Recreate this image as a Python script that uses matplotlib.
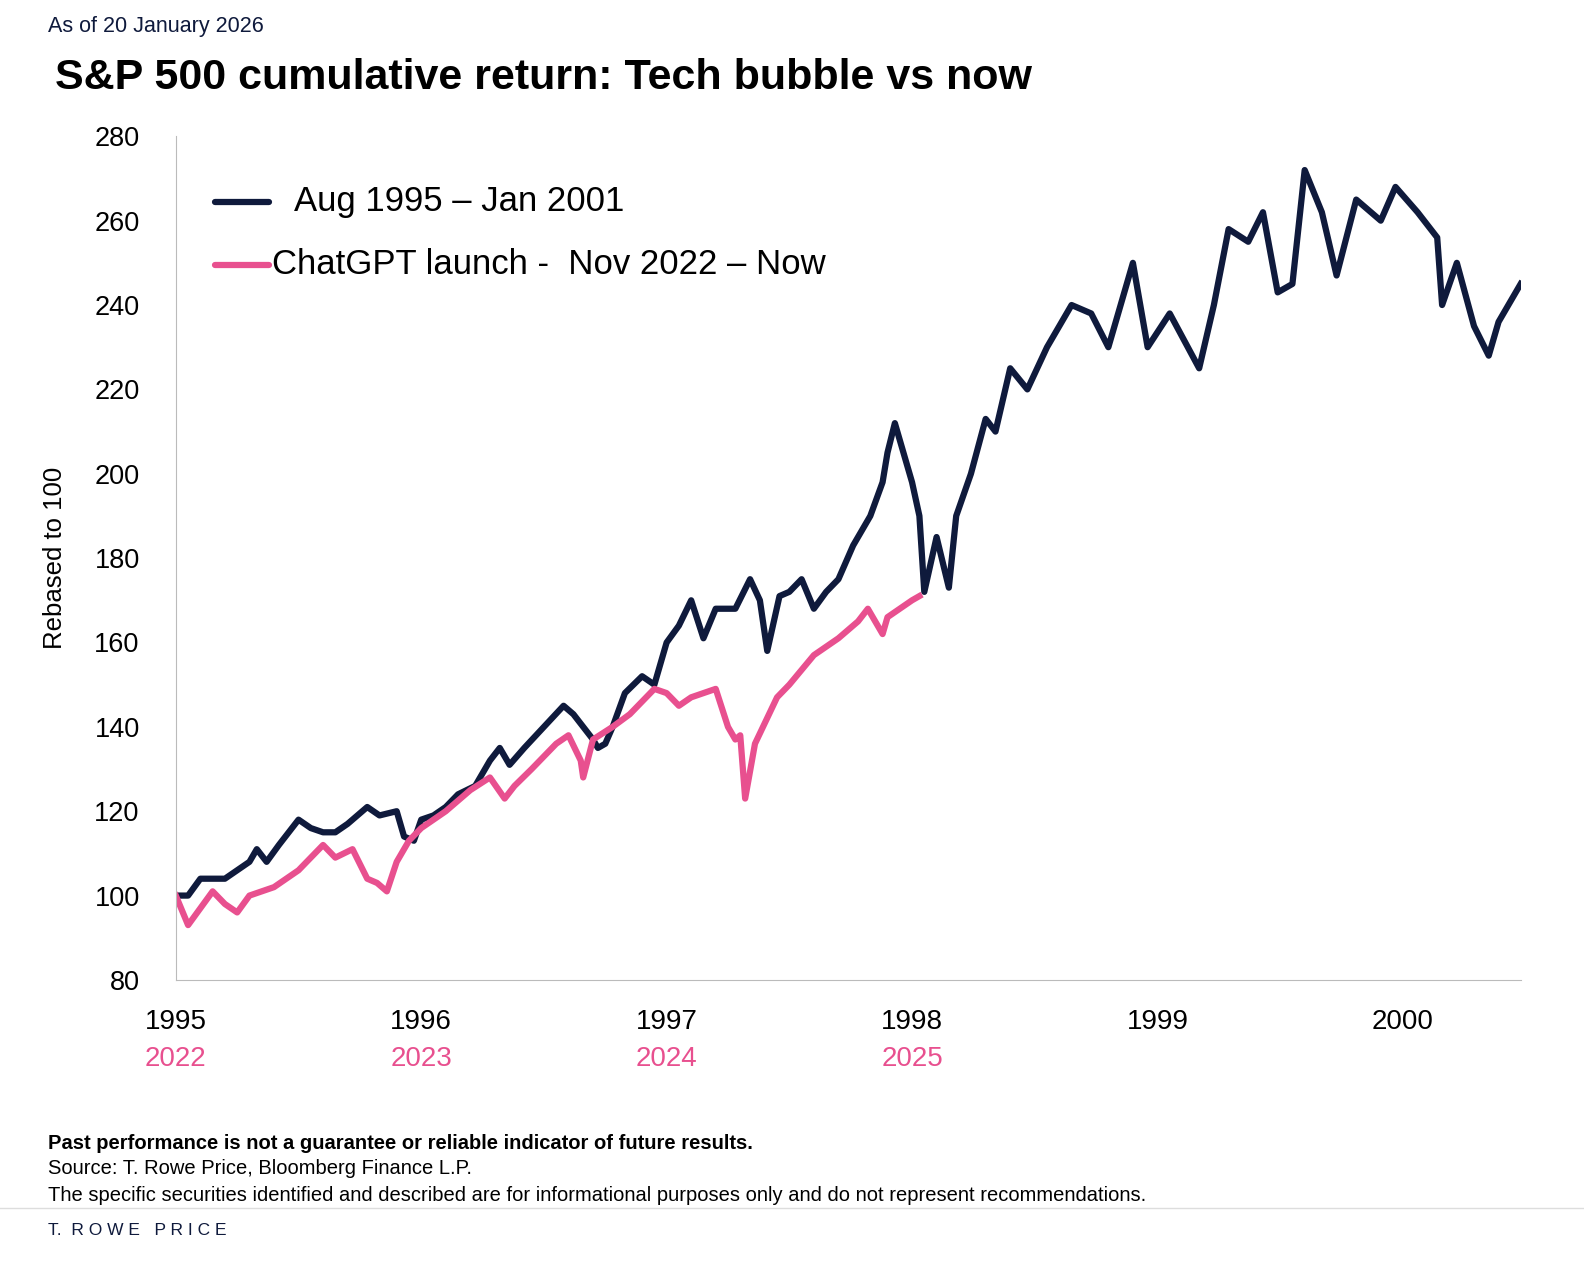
import matplotlib
matplotlib.use("Agg")
import matplotlib.pyplot as plt
plt.rcParams['font.family'] = ['Liberation Sans', 'DejaVu Sans']

NAVY = "#0f1a3c"; PINK = "#e8508f"
tech_x = [1995.0,1995.05,1995.1,1995.15,1995.2,1995.25,1995.3,1995.33,1995.37,1995.42,1995.5,1995.55,1995.6,1995.65,1995.7,1995.78,1995.83,1995.9,1995.93,1995.97,
          1996.0,1996.05,1996.1,1996.15,1996.22,1996.28,1996.32,1996.36,1996.42,1996.5,1996.58,1996.62,1996.66,1996.7,1996.72,1996.75,1996.78,1996.83,1996.9,1996.95,
          1997.0,1997.05,1997.1,1997.15,1997.2,1997.28,1997.34,1997.38,1997.41,1997.46,1997.5,1997.55,1997.6,1997.65,1997.7,1997.76,1997.83,1997.88,1997.9,1997.93,1997.96,
          1998.0,1998.03,1998.05,1998.1,1998.15,1998.18,1998.24,1998.3,1998.34,1998.4,1998.47,1998.55,1998.65,1998.73,1998.8,1998.9,1998.96,
          1999.05,1999.17,1999.23,1999.29,1999.37,1999.43,1999.49,1999.55,1999.6,1999.67,1999.73,1999.81,1999.91,1999.97,
          2000.06,2000.14,2000.16,2000.22,2000.29,2000.35,2000.39,2000.48]
tech_y = [100,100,104,104,104,106,108,111,108,112,118,116,115,115,117,121,119,120,114,113,
          118,119,121,124,126,132,135,131,135,140,145,143,140,137,135,136,140,148,152,150,
          160,164,170,161,168,168,175,170,158,171,172,175,168,172,175,183,190,198,205,212,206,
          198,190,172,185,173,190,200,213,210,225,220,230,240,238,230,250,230,
          238,225,240,258,255,262,243,245,272,262,247,265,260,268,
          262,256,240,250,235,228,236,245]
now_x = [1995.0,1995.05,1995.1,1995.15,1995.2,1995.25,1995.3,1995.4,1995.5,1995.6,1995.65,1995.72,1995.78,1995.82,1995.86,1995.9,1995.95,
         1996.0,1996.1,1996.2,1996.28,1996.34,1996.38,1996.45,1996.55,1996.6,1996.65,1996.66,1996.7,1996.78,1996.85,1996.95,
         1997.0,1997.05,1997.1,1997.2,1997.25,1997.28,1997.3,1997.32,1997.36,1997.45,1997.5,1997.6,1997.7,1997.78,1997.82,1997.88,1997.9,1997.95,1998.0,1998.03]
now_y = [100,93,97,101,98,96,100,102,106,112,109,111,104,103,101,108,113,
         116,120,125,128,123,126,130,136,138,132,128,137,140,143,149,
         148,145,147,149,140,137,138,123,136,147,150,157,161,165,168,162,166,168,170,171]
yticks = list(range(80, 281, 20))
years_top = ["1995","1996","1997","1998","1999","2000"]
years_pink = ["2022","2023","2024","2025"]

fig = plt.figure(figsize=(15.84, 12.62), dpi=100)
ax = fig.add_axes([0.111, 0.2235, 0.849, 0.6685])
ax.plot(tech_x, tech_y, color=NAVY, lw=4.5, solid_joinstyle="round")
ax.plot(now_x, now_y, color=PINK, lw=4.5, solid_joinstyle="round")
ax.set_xlim(1995, 2000.48); ax.set_ylim(80, 280)
ax.set_yticks(yticks)
ax.set_xticks(range(1995, 2001)); ax.set_xticklabels([])
ax.tick_params(length=0, labelsize=19.5, pad=26)
for s in ["top", "right"]: ax.spines[s].set_visible(False)
for s in ["left", "bottom"]: ax.spines[s].set_color("#bbbbbb")
for i, t in enumerate(years_top):
    ax.text(1995 + i, 70, t, ha="center", va="center", fontsize=20)
for i, t in enumerate(years_pink):
    ax.text(1995 + i, 61.3, t, ha="center", va="center", fontsize=20, color=PINK)
ax.set_ylabel("Rebased to 100", fontsize=18.5, labelpad=20)
ax.plot([1995.16, 1995.38], [264.5, 264.5], color=NAVY, lw=4.5, solid_capstyle="round")
ax.text(1995.48, 264.5, "Aug 1995 – Jan 2001", fontsize=25, va="center")
ax.plot([1995.16, 1995.38], [249.5, 249.5], color=PINK, lw=4.5, solid_capstyle="round")
ax.text(1995.39, 249.5, "ChatGPT launch -  Nov 2022 – Now", fontsize=25, va="center")
fig.text(0.03, 0.979, "As of 20 January 2026", fontsize=15.5, color=NAVY, va="center")
fig.text(0.035, 0.938, "S&P 500 cumulative return: Tech bubble vs now", fontsize=31, fontweight="heavy", va="center")
fig.text(0.03, 0.094, "Past performance is not a guarantee or reliable indicator of future results.", fontsize=14.5, fontweight="bold", va="center")
fig.text(0.03, 0.074, "Source: T. Rowe Price, Bloomberg Finance L.P.", fontsize=14.5, va="center")
fig.text(0.03, 0.053, "The specific securities identified and described are for informational purposes only and do not represent recommendations.", fontsize=14.5, va="center")
fig.add_artist(plt.Line2D([0, 1], [0.043, 0.043], color="#dddddd", lw=1))
fig.text(0.03, 0.025, "T.  R O W E   P R I C E", fontsize=12.5, color=NAVY, va="center")
fig.savefig("out.png", dpi=100)
